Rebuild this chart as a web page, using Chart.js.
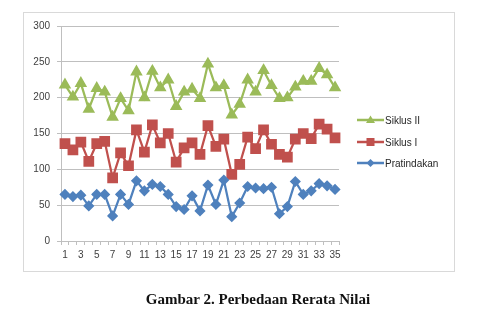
<!DOCTYPE html>
<html>
<head>
<meta charset="utf-8">
<script src="https://cdn.jsdelivr.net/npm/chart.js@4.4.0/dist/chart.umd.min.js"></script>
<style>
  html,body{margin:0;padding:0;background:#fff;}
  #wrap{position:relative;width:477px;height:330px;overflow:hidden;}
  #box{position:absolute;left:23px;top:12px;width:430px;height:258px;border:1px solid #d9d9d9;}
  canvas{position:absolute;left:0;top:0;}
  .leg{position:absolute;left:357px;height:14px;font:10px "Liberation Sans",Arial,sans-serif;color:#262626;display:flex;align-items:center;}
  .leg svg{display:block;margin-right:1px;}
  #cap{position:absolute;left:0;width:516px;top:291px;text-align:center;font:bold 15px "Liberation Serif","Times New Roman",serif;color:#111;}
</style>
</head>
<body>
<div id="wrap">
  <div id="box"></div>
  <canvas id="c" width="477" height="330"></canvas>
  <div class="leg" style="top:113px"><svg width="27" height="12"><line x1="0" y1="6" x2="27" y2="6" stroke="#9bbb59" stroke-width="2.5"/><polygon points="13.5,1.5 18,9 9,9" fill="#9bbb59"/></svg>Siklus II</div>
  <div class="leg" style="top:135px"><svg width="27" height="12"><line x1="0" y1="6" x2="27" y2="6" stroke="#c0504d" stroke-width="2.5"/><rect x="9.5" y="2" width="8" height="8" fill="#c0504d"/></svg>Siklus I</div>
  <div class="leg" style="top:156px"><svg width="27" height="12"><line x1="0" y1="6" x2="27" y2="6" stroke="#4f81bd" stroke-width="2.5"/><polygon points="13.5,2 17.5,6 13.5,10 9.5,6" fill="#4f81bd"/></svg>Pratindakan</div>
  <div id="cap">Gambar 2. Perbedaan Rerata Nilai</div>
</div>
<script>
const categories = Array.from({length:35},(_,i)=>String(i+1));
const yTicks = [0,50,100,150,200,250,300];
const siklus2 = [218,201,220,184,213,208,173,199,182,236,200,237,214,225,188,208,212,199,247,214,217,176,191,225,208,238,217,199,200,215,223,223,241,232,214];
const siklus1 = [136,127,138,111,136,139,88,123,105,155,124,162,137,150,110,130,137,121,161,132,142,93,107,145,129,155,135,121,117,142,150,143,163,156,144];
const pratindakan = [65,62,64,49,65,65,35,65,51,84,70,79,76,65,48,44,63,42,78,51,85,34,53,76,74,73,75,38,48,83,65,70,80,77,72];

const tickFont = {family:'"Liberation Sans", Arial, sans-serif', size:10};
new Chart(document.getElementById('c'), {
  type:'line',
  data:{
    labels:categories,
    datasets:[
      {label:'Pratindakan',data:pratindakan,borderColor:'#4f81bd',backgroundColor:'#4f81bd',pointStyle:'rectRot',pointRadius:4,borderWidth:2.25,tension:0},
      {label:'Siklus I',data:siklus1,borderColor:'#c0504d',backgroundColor:'#c0504d',pointStyle:'rect',pointRadius:6,borderWidth:2.25,tension:0},
      {label:'Siklus II',data:siklus2,borderColor:'#9bbb59',backgroundColor:'#9bbb59',pointStyle:'triangle',pointRadius:5,borderWidth:2.25,tension:0}
    ]
  },
  options:{
    responsive:false,
    animation:false,
    layout:{padding:{left:0,right:138,top:26,bottom:59}},
    plugins:{legend:{display:false},tooltip:{enabled:false}},
    scales:{
      x:{
        offset:true,
        grid:{display:true,drawOnChartArea:false,drawTicks:true,tickLength:4,offset:true,color:'#bfbfbf'},
        border:{color:'#bfbfbf'},
        ticks:{autoSkip:false,maxRotation:0,minRotation:0,padding:4,color:'#404040',font:tickFont,
          callback:function(v,i){return i%2===0?categories[i]:'';}},
        afterFit:function(s){s.height=30;}
      },
      y:{
        min:0,max:300,
        afterBuildTicks:function(s){s.ticks=yTicks.map(v=>({value:v}));},
        grid:{color:'#bfbfbf',drawTicks:true,tickLength:4},
        border:{color:'#bfbfbf'},
        ticks:{padding:7,color:'#404040',font:tickFont},
        afterFit:function(s){s.width=61;}
      }
    }
  }
});
</script>
</body>
</html>
